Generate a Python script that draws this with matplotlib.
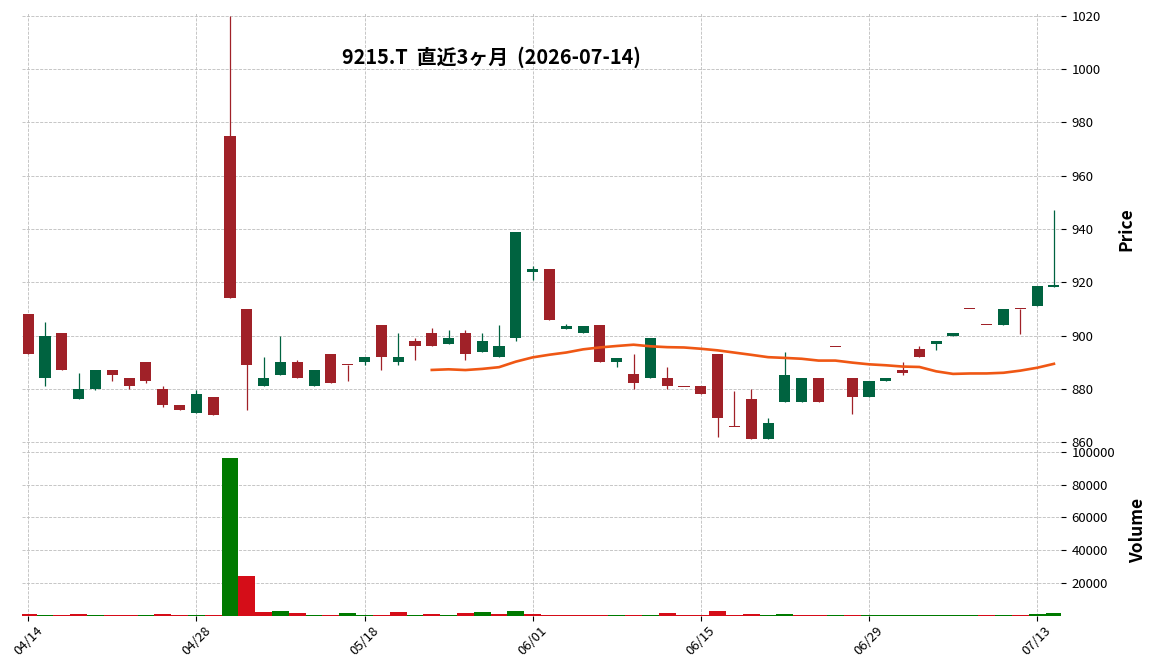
import matplotlib.pyplot as plt
import numpy as np
import pandas as pd

plt.rcParams['font.family'] = ['Noto Sans CJK JP', 'DejaVu Sans']

TITLE = '9215.T  直近3ヶ月  (2026-07-14)'

# JP trading days (Showa day + Golden Week closed)
holidays = ['2026-04-29', '2026-05-04', '2026-05-05', '2026-05-06']
dates = pd.bdate_range('2026-04-14', '2026-07-14', freq='C', holidays=holidays)

opens = [908, 884, 901, 876, 880, 887, 884, 890, 880, 874, 871, 877, 975, 910, 881,
         885, 890, 881, 893, 889, 890, 904, 890, 898, 901, 897, 901, 894, 892, 899,
         924, 925, 902.3, 901, 904, 890, 885.5, 884, 884, 881, 881, 893, 866, 876,
         861, 875, 875, 884, 896, 884, 877, 883, 887, 895, 897, 900, 910, 904, 904,
         910, 911, 918.3]
highs = [908, 905, 901, 886, 887, 887, 884, 890, 881, 874, 879.5, 877, 1020, 910, 892,
         900, 891, 887, 893, 889, 892, 904, 901, 899, 903, 902, 902, 901, 904, 939,
         926, 925, 904.2, 903.7, 904, 891.5, 893, 899, 888, 881, 881, 893, 879, 880,
         869, 894, 884, 884, 896, 884, 883, 884, 890, 896, 898, 901, 910, 904, 910,
         910, 918.5, 947]
lows = [893, 881, 887, 876, 879.5, 883, 880, 882, 873, 872, 871, 870, 914, 872, 881,
        885, 884, 881, 882, 883, 889, 887, 889, 891, 896, 897, 891, 894, 892, 898,
        921, 906, 902.3, 901, 890, 888, 880, 884, 880, 881, 878, 862, 866, 861,
        861, 875, 875, 875, 896, 870.5, 877, 883, 885.3, 892, 894.5, 900, 910, 904,
        904, 900.5, 911, 918.3]
closes = [893, 900, 887, 880, 887, 885, 881, 883, 874, 872, 878, 870, 914, 889, 884,
          890, 884, 887, 882, 889, 892, 892, 892, 896, 896, 899, 893, 898, 896, 939,
          925, 906, 903.7, 903.7, 890, 891.5, 882, 899, 881, 881, 878, 869, 866, 861,
          867, 885, 884, 875, 896, 877, 883, 884, 886, 892, 898, 901, 910, 904, 910,
          910, 918.5, 919]
volumes = [1200, 100, 100, 1200, 300, 300, 100, 300, 1200, 100, 300, 300, 96300, 24200,
           2300, 2700, 1700, 300, 300, 1700, 300, 300, 2000, 100, 800, 600, 1400, 2100,
           800, 2700, 800, 300, 100, 100, 300, 100, 300, 100, 1800, 100, 300, 2600, 300,
           1000, 100, 1000, 100, 100, 100, 300, 100, 100, 100, 100, 100, 100, 100, 100,
           100, 300, 1000, 1800]

MAV = 25
UP, DOWN = '#006340', '#A02128'
VUP, VDOWN = '#007a00', '#d50d18'
MA_COLOR = '#ef5714'
GRID_KW = dict(color='#bdbdbd', linestyle='--', linewidth=0.6)

df = pd.DataFrame({'Open': opens, 'High': highs, 'Low': lows,
                   'Close': closes, 'Volume': volumes}, index=dates)
x = np.arange(len(df))

fig = plt.figure(figsize=(11.52, 6.71), dpi=100)
W, H = 1152, 671
left, right = 22 / W, 1061 / W
ax = fig.add_axes([left, 1 - 445 / H, right - left, (445 - 13) / H])
axv = fig.add_axes([left, 1 - 615.5 / H, right - left, (615.5 - 445) / H], sharex=ax)

# candles
up = df['Close'] > df['Open']
ccolors = np.where(up, UP, DOWN)
ax.vlines(x, df['Low'], df['High'], colors=ccolors, linewidth=0.9, zorder=2)
body_lo = np.minimum(df['Open'], df['Close'])
body_h = np.maximum((df['Close'] - df['Open']).abs(), 0.35)
ax.bar(x, body_h, bottom=body_lo - np.where(body_h == 0.35, 0.17, 0), width=0.66,
       color=ccolors, edgecolor='none', zorder=3)

# moving average
ma = df['Close'].rolling(MAV).mean()
ax.plot(x, ma, color=MA_COLOR, linewidth=1.9, zorder=4)

# volume coloured by close vs previous close
prev = df['Close'].shift(1).fillna(df['Open'])
vcolors = np.where(df['Close'] > prev, VUP, VDOWN)
axv.bar(x, df['Volume'], width=1.0, color=vcolors, edgecolor='none', zorder=3)

ax.set_xlim(-0.37, 61.42)
ax.set_ylim(858.9, 1021.1)
axv.set_ylim(0, 104300)

for a in (ax, axv):
    for s in a.spines.values():
        s.set_visible(False)
    a.yaxis.tick_right()
    a.yaxis.set_label_position('right')
    a.grid(True, **GRID_KW)
    a.set_axisbelow(True)
    a.tick_params(axis='y', length=3.5, width=0.8, pad=4, labelsize=9.5)

ax.set_yticks(np.arange(860, 1021, 20))
axv.set_yticks([20000, 40000, 60000, 80000, 100000])
axv.set_yticklabels(['20000', '40000', '60000', '80000', '100000'])

tick_pos = x[::10]
tick_labels = [d.strftime('%m/%d') for d in dates[::10]]
axv.set_xticks(tick_pos)
axv.set_xticklabels(tick_labels, rotation=45, ha='center')
axv.tick_params(axis='x', length=3.5, width=0.8, pad=3, labelsize=9.5)
ax.tick_params(axis='x', bottom=False, labelbottom=False)

ax.set_ylabel('Price', fontsize=12.5, fontweight='bold', labelpad=12)
axv.set_ylabel('Volume', fontsize=12.5, fontweight='bold', labelpad=10)

fig.text(491 / W, 1 - 57 / H, TITLE, ha='center', va='center',
         fontsize=14.3, fontweight='bold')

fig.savefig('out.png', dpi=100)
plt.close(fig)
